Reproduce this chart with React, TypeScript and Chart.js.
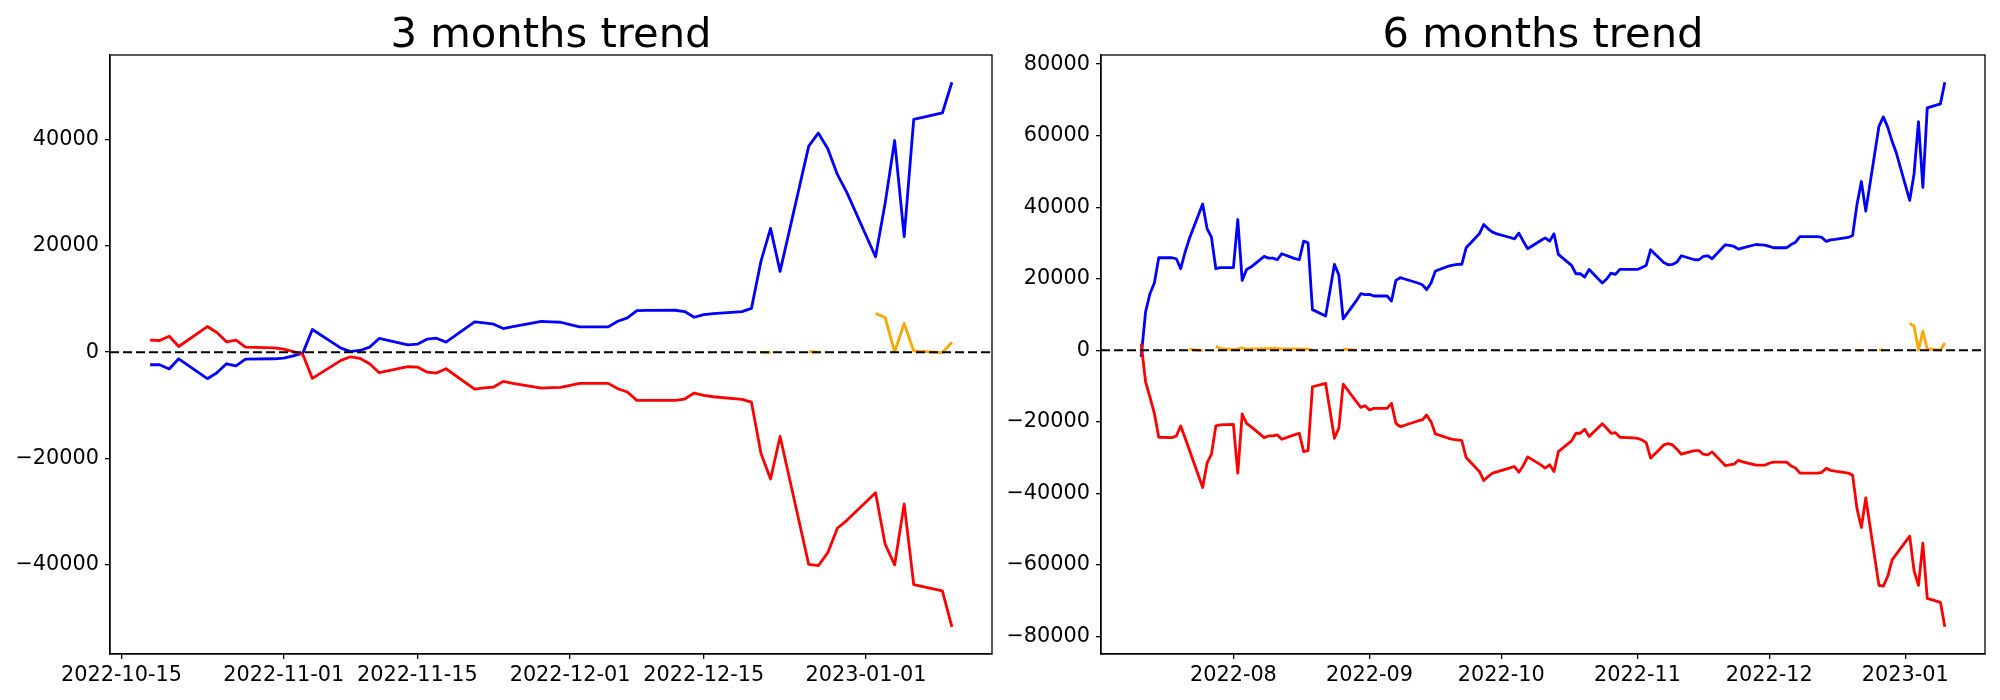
import React, { useEffect, useRef } from 'react';
import { Chart, registerables } from 'chart.js';

Chart.register(...registerables);

// ---------- 3 months (left) ----------
const L_DATES = [
  '2022-10-18','2022-10-19','2022-10-20','2022-10-21','2022-10-24','2022-10-25','2022-10-26','2022-10-27','2022-10-28','2022-10-31',
  '2022-11-01','2022-11-02','2022-11-03','2022-11-04','2022-11-07','2022-11-08','2022-11-09','2022-11-10','2022-11-11','2022-11-14','2022-11-15','2022-11-16','2022-11-17','2022-11-18','2022-11-21','2022-11-22','2022-11-23','2022-11-24','2022-11-25','2022-11-28','2022-11-29','2022-11-30',
  '2022-12-01','2022-12-02','2022-12-05','2022-12-06','2022-12-07','2022-12-08','2022-12-09','2022-12-12','2022-12-13','2022-12-14','2022-12-15','2022-12-16','2022-12-19','2022-12-20','2022-12-21','2022-12-22','2022-12-23','2022-12-26','2022-12-27','2022-12-28','2022-12-29','2022-12-30',
  '2023-01-02','2023-01-03','2023-01-04','2023-01-05','2023-01-06','2023-01-09','2023-01-10',
];
const L_BLUE = [
  -2380, -2380, -3190, -1250, -5000, -3880, -2190, -2570, -1310, -1250,
  -1130, -700, -190, 4260, 750, 125, 313, 940, 2570, 1380, 1500, 2440, 2630, 1880, 5700, 5500, 5260, 4440, 4800, 5800, 5700, 5630,
  5200, 4760, 4760, 5820, 6450, 7820, 7850, 7890, 7640, 6570, 7070, 7250, 7640, 8240, 17140, 23300, 15210, 38800, 41250, 38290, 33460, 30050,
  17960, 27970, 39850, 21740, 43850, 45040, 50830,
];
const L_RED = [
  2250, 2190, 3000, 1060, 4820, 3690, 1940, 2250, 940, 800,
  560, 100, -440, -4950, -1560, -880, -1190, -2190, -3880, -2750, -2820, -3760, -3940, -3130, -6950, -6750, -6570, -5510, -5900, -6760, -6700, -6640,
  -6250, -5880, -5880, -6890, -7510, -9080, -9080, -9080, -8830, -7700, -8140, -8400, -8900, -9420, -19070, -23890, -15880, -39990, -40220, -37770, -33170, -31680,
  -26490, -36140, -40070, -28570, -43780, -44970, -51720,
];
const L_ORANGE_DATES = [
  '2022-12-21','2022-12-22','2022-12-23','2022-12-26','2022-12-27','2022-12-28',
  '2023-01-02','2023-01-03','2023-01-04','2023-01-05','2023-01-06','2023-01-09','2023-01-10',
];
const L_ORANGE = [-50, -50, null, 100, 0, null, 7270, 6530, 0, 5420, 220, -100, 1850];
const L_XTICKS = ['2022-10-15','2022-11-01','2022-11-15','2022-12-01','2022-12-15','2023-01-01'];
const L_XTICK_LABELS = ['2022-10-15','2022-11-01','2022-11-15','2022-12-01','2022-12-15','2023-01-01'];
const L_YTICKS = [-40000, -20000, 0, 20000, 40000];

// ---------- 6 months (right) ----------
const R_DATES = [
  '2022-07-11','2022-07-12','2022-07-13','2022-07-14','2022-07-15','2022-07-18','2022-07-19','2022-07-20','2022-07-21','2022-07-22','2022-07-25','2022-07-26','2022-07-27','2022-07-28','2022-07-29',
  '2022-08-01','2022-08-02','2022-08-03','2022-08-04','2022-08-05','2022-08-08','2022-08-09','2022-08-10','2022-08-11','2022-08-12','2022-08-15','2022-08-16','2022-08-17','2022-08-18','2022-08-19','2022-08-22','2022-08-23','2022-08-24','2022-08-25','2022-08-26','2022-08-29','2022-08-30','2022-08-31',
  '2022-09-01','2022-09-02','2022-09-05','2022-09-06','2022-09-07','2022-09-08','2022-09-09','2022-09-12','2022-09-13','2022-09-14','2022-09-15','2022-09-16','2022-09-19','2022-09-20','2022-09-21','2022-09-22','2022-09-23','2022-09-26','2022-09-27','2022-09-28','2022-09-29','2022-09-30',
  '2022-10-03','2022-10-04','2022-10-05','2022-10-06','2022-10-07','2022-10-10','2022-10-11','2022-10-12','2022-10-13','2022-10-14','2022-10-17','2022-10-18','2022-10-19','2022-10-20','2022-10-21','2022-10-24','2022-10-25','2022-10-26','2022-10-27','2022-10-28','2022-10-31',
  '2022-11-01','2022-11-02','2022-11-03','2022-11-04','2022-11-07','2022-11-08','2022-11-09','2022-11-10','2022-11-11','2022-11-14','2022-11-15','2022-11-16','2022-11-17','2022-11-18','2022-11-21','2022-11-22','2022-11-23','2022-11-24','2022-11-25','2022-11-28','2022-11-29','2022-11-30',
  '2022-12-01','2022-12-02','2022-12-05','2022-12-06','2022-12-07','2022-12-08','2022-12-09','2022-12-12','2022-12-13','2022-12-14','2022-12-15','2022-12-16','2022-12-19','2022-12-20','2022-12-21','2022-12-22','2022-12-23','2022-12-26','2022-12-27','2022-12-28','2022-12-29','2022-12-30',
  '2023-01-02','2023-01-03','2023-01-04','2023-01-05','2023-01-06','2023-01-09','2023-01-10',
];
const R_BLUE = [
  -1860, 10690, 15800, 18780, 25850, 25850, 25570, 22780, 27400, 31300, 40900, 34000, 31600, 22780, 23060,
  23060, 36540, 19520, 22590, 23240, 26220, 25750, 25750, 25290, 26960, 25600, 25290, 30490, 30030, 11340, 9580, 16700, 23990, 21100, 8740, 13850, 15800, 15530,
  15620, 15150, 15150, 13760, 19520, 20270, 19900, 18780, 18310, 16920, 18780, 22130, 23520, 23800, 23990, 23990, 28630, 32540, 35140, 33930, 33000, 32540,
  31520, 31140, 32730, 30490, 28360, 30680, 31420, 30490, 32540, 26780, 23710, 21380, 21380, 20450, 22590, 18780, 19900, 21570, 21200, 22590, 22590,
  22590, 23150, 23710, 28080, 24540, 23890, 23990, 24640, 26400, 25290, 25290, 26220, 26400, 25570, 29470, 29290, 29010, 28260, 28630, 29560, 29470, 29380,
  29010, 28650, 28650, 29530, 30190, 31740, 31740, 31740, 31520, 30420, 30860, 30970, 31520, 32070, 40770, 47170, 38900, 62590, 65240, 62370, 58410, 54990,
  41880, 49370, 63920, 45510, 67770, 68880, 74940,
];
const R_RED = [
  1860, -8830, -13110, -17660, -24360, -24450, -23990, -21200, -24540, -27980, -38400, -31610, -29100, -21200, -20920,
  -20730, -34400, -17850, -20450, -21380, -24450, -23990, -23990, -23710, -24920, -23610, -23240, -28360, -28080, -10230, -9300, -16920, -24640, -21850, -9480, -14410, -15990, -15530,
  -16730, -16270, -16270, -14880, -20450, -21380, -21010, -19800, -19520, -18130, -19990, -23430, -24640, -24920, -25100, -25290, -30030, -33930, -36440, -35330, -34400, -34030,
  -32910, -32540, -34120, -32310, -29840, -32070, -33000, -32070, -33930, -28360, -25380, -23240, -23240, -22130, -24170, -20550, -21850, -23240, -23060, -24360, -24540,
  -24640, -25100, -25850, -30210, -26500, -26120, -26500, -27700, -29100, -28080, -28080, -29100, -29290, -28450, -32260, -32070, -31890, -30770, -31240, -32170, -32170, -32170,
  -31630, -31300, -31300, -32400, -32950, -34380, -34380, -34380, -34160, -33060, -33610, -33830, -34380, -34930, -44300, -49590, -41330, -65790, -66010, -63250, -58630, -56970,
  -52010, -61710, -65790, -54000, -69430, -70530, -77360,
];
const R_ORANGE_DATES = [
  '2022-07-22','2022-07-25','2022-07-26','2022-07-28','2022-07-29',
  '2022-08-01','2022-08-02','2022-08-03','2022-08-04','2022-08-05','2022-08-08','2022-08-09','2022-08-10','2022-08-11','2022-08-12','2022-08-15','2022-08-16','2022-08-17','2022-08-18','2022-08-19',
  '2022-08-22','2022-08-26','2022-08-29','2022-08-30',
  '2022-12-21','2022-12-22','2022-12-23','2022-12-26','2022-12-27','2022-12-28',
  '2023-01-02','2023-01-03','2023-01-04','2023-01-05','2023-01-06','2023-01-09','2023-01-10',
];
const R_ORANGE = [
  200, -100, null, 1100, 460,
  190, 370, 650, 280, 370, 460, 460, 560, 460, 370, 370, 370, 280, 280, 0,
  null, 280, 0, null,
  -50, -50, null, 100, 0, null,
  7490, 6720, 0, 5290, 330, 0, 1980,
];
const R_XTICKS = ['2022-08-01','2022-09-01','2022-10-01','2022-11-01','2022-12-01','2023-01-01'];
const R_XTICK_LABELS = ['2022-08','2022-09','2022-10','2022-11','2022-12','2023-01'];
const R_YTICKS = [-80000, -60000, -40000, -20000, 0, 20000, 40000, 60000, 80000];

const FONT = "'DejaVu Sans', sans-serif";

function dayNum(s: string): number {
  const [y, m, d] = s.split('-').map(Number);
  return Date.UTC(y, m - 1, d) / 86400000;
}

function pts(dates: string[], vals: (number | null)[]) {
  return dates.map((d, i) => ({ x: dayNum(d), y: vals[i] }));
}

function fmtNum(v: number) {
  return v < 0 ? '\u2212' + String(Math.abs(v)) : String(v);
}

const titlePlugin = {
  id: 'mplTitle',
  afterDraw(chart: any, _args: any, opts: any) {
    const { ctx, chartArea } = chart;
    ctx.save();
    ctx.font = `41.7px ${FONT}`;
    ctx.fillStyle = '#000';
    ctx.textAlign = 'center';
    ctx.textBaseline = 'alphabetic';
    ctx.fillText(opts.text, (chartArea.left + chartArea.right) / 2, chartArea.top - 8.3);
    ctx.restore();
  },
};

const framePlugin = {
  id: 'mplFrame',
  afterDatasetsDraw(chart: any) {
    const { ctx, chartArea } = chart;
    ctx.save();
    ctx.strokeStyle = '#000';
    ctx.lineWidth = 1.3;
    ctx.strokeRect(chartArea.left, chartArea.top, chartArea.right - chartArea.left, chartArea.bottom - chartArea.top);
    ctx.restore();
  },
};

interface Spec {
  title: string;
  dates: string[];
  blue: number[];
  red: number[];
  oDates: string[];
  orange: (number | null)[];
  xTicks: string[];
  xLabels: string[];
  yTicks: number[];
  padding: { left: number; right: number; top: number; bottom: number };
}

function makeConfig(s: Spec): any {
  const x0 = dayNum(s.dates[0]);
  const x1 = dayNum(s.dates[s.dates.length - 1]);
  const xs = x1 - x0;
  const xMin = x0 - 0.05 * xs;
  const xMax = x1 + 0.05 * xs;
  const all = [...s.blue, ...s.red, ...(s.orange.filter((v) => v !== null) as number[])];
  const y0 = Math.min(...all);
  const y1 = Math.max(...all);
  const ys = y1 - y0;
  const yMin = y0 - 0.05 * ys;
  const yMax = y1 + 0.05 * ys;

  const line = (color: string) => ({
    borderColor: color,
    backgroundColor: color,
    borderWidth: 2.8,
    pointRadius: 0,
    tension: 0,
    fill: false,
    spanGaps: false,
    borderJoinStyle: 'round',
    borderCapStyle: 'butt',
  });

  return {
    type: 'line',
    data: {
      datasets: [
        {
          data: [{ x: xMin, y: 0 }, { x: xMax, y: 0 }],
          borderColor: '#000',
          borderWidth: 2,
          borderDash: [9, 4],
          pointRadius: 0,
          fill: false,
        },
        { data: pts(s.oDates, s.orange), ...line('#ffa500') },
        { data: pts(s.dates, s.red), ...line('#ff0000') },
        { data: pts(s.dates, s.blue), ...line('#0000ff') },
      ],
    },
    options: {
      animation: false,
      responsive: false,
      devicePixelRatio: 1,
      parsing: false,
      normalized: true,
      layout: { padding: s.padding },
      plugins: {
        legend: { display: false },
        tooltip: { enabled: false },
        mplTitle: { text: s.title },
      },
      scales: {
        x: {
          type: 'linear',
          min: xMin,
          max: xMax,
          afterBuildTicks: (scale: any) => {
            scale.ticks = s.xTicks.map((t) => ({ value: dayNum(t) }));
          },
          afterFit: (scale: any) => {
            scale.height = 40;
          },
          ticks: {
            autoSkip: false,
            maxRotation: 0,
            minRotation: 0,
            color: '#000',
            padding: 4,
            font: { family: FONT, size: 20.8 },
            callback: (_v: any, i: number) => s.xLabels[i],
          },
          grid: { drawOnChartArea: false, drawTicks: true, tickLength: 5, color: '#000', lineWidth: 1.3 },
          border: { display: true, color: '#000', width: 1.3 },
        },
        y: {
          type: 'linear',
          min: yMin,
          max: yMax,
          afterBuildTicks: (scale: any) => {
            scale.ticks = s.yTicks.map((v) => ({ value: v }));
          },
          afterFit: (scale: any) => {
            scale.width = 100;
          },
          ticks: {
            autoSkip: false,
            color: '#000',
            padding: 6,
            font: { family: FONT, size: 20.8 },
            callback: (v: any) => fmtNum(Number(v)),
          },
          grid: { drawOnChartArea: false, drawTicks: true, tickLength: 5, color: '#000', lineWidth: 1.3 },
          border: { display: true, color: '#000', width: 1.3 },
        },
      },
    },
    plugins: [titlePlugin, framePlugin],
  };
}

function Panel({ spec, left }: { spec: Spec; left: number }) {
  const ref = useRef<HTMLCanvasElement | null>(null);
  useEffect(() => {
    if (!ref.current) return;
    const chart = new Chart(ref.current, makeConfig(spec));
    return () => chart.destroy();
  }, [spec]);
  return (
    <canvas
      ref={ref}
      width={1000}
      height={700}
      style={{ position: 'absolute', left, top: 0, width: 1000, height: 700 }}
    />
  );
}

const LEFT_SPEC: Spec = {
  title: '3 months trend',
  dates: L_DATES,
  blue: L_BLUE,
  red: L_RED,
  oDates: L_ORANGE_DATES,
  orange: L_ORANGE,
  xTicks: L_XTICKS,
  xLabels: L_XTICK_LABELS,
  yTicks: L_YTICKS,
  padding: { left: 10, right: 8, top: 55, bottom: 6 },
};

const RIGHT_SPEC: Spec = {
  title: '6 months trend',
  dates: R_DATES,
  blue: R_BLUE,
  red: R_RED,
  oDates: R_ORANGE_DATES,
  orange: R_ORANGE,
  xTicks: R_XTICKS,
  xLabels: R_XTICK_LABELS,
  yTicks: R_YTICKS,
  padding: { left: 1, right: 15, top: 55, bottom: 6 },
};

export default function App() {
  return (
    <div style={{ position: 'fixed', left: 0, top: 0, width: 2000, height: 700, background: '#fff', overflow: 'hidden' }}>
      <Panel spec={LEFT_SPEC} left={0} />
      <Panel spec={RIGHT_SPEC} left={1000} />
    </div>
  );
}
